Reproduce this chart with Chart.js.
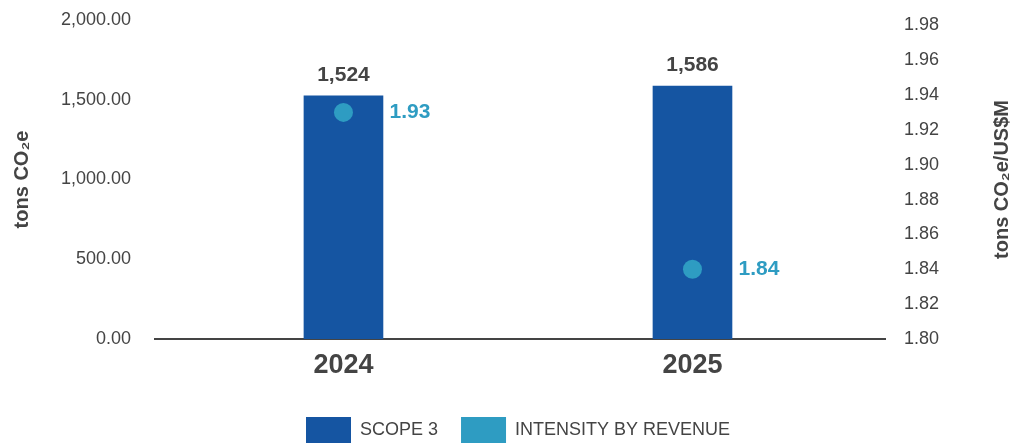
<!DOCTYPE html>
<html>
<head>
<meta charset="utf-8">
<title>Scope 3 emissions and intensity by revenue</title>
<script src="https://cdn.jsdelivr.net/npm/chart.js@4.4.1/dist/chart.umd.min.js"></script>
<style>
  html, body { margin: 0; padding: 0; background: #ffffff; }
  #wrap { width: 1013px; height: 443px; }
</style>
</head>
<body>
<div id="wrap"><canvas id="chart" width="1013" height="443"></canvas></div>
<script>
// ---- data ----
const categories = ['2024', '2025'];
const scope3 = [1524, 1586];            // tons CO2e
const intensity = [1.93, 1.84];         // tons CO2e / US$M
const leftTicks = [0, 500, 1000, 1500, 2000];
const rightTicks = [1.80, 1.82, 1.84, 1.86, 1.88, 1.90, 1.92, 1.94, 1.96, 1.98];
const seriesNames = ['SCOPE 3', 'INTENSITY BY REVENUE'];
const leftTitle = 'tons CO₂e';
const rightTitle = 'tons CO₂e/US$M';

// ---- style ----
const FONT = "'Liberation Sans', Arial, Helvetica, sans-serif";
const INK = '#444444';
const BLUE = '#1555A2';
const TEAL = '#2E9CC2';

// value labels above bars / beside points, plus the right-hand axis title
const annotations = {
  id: 'annotations',
  afterDatasetsDraw(chart) {
    const ctx = chart.ctx;
    ctx.save();
    ctx.textBaseline = 'middle';

    ctx.font = `bold 21px ${FONT}`;
    ctx.fillStyle = INK;
    ctx.textAlign = 'center';
    chart.getDatasetMeta(0).data.forEach((bar, i) => {
      ctx.fillText(scope3[i].toLocaleString('en-US'), bar.x, bar.y - 21);
    });

    ctx.fillStyle = TEAL;
    ctx.textAlign = 'left';
    chart.getDatasetMeta(1).data.forEach((pt, i) => {
      ctx.fillText(intensity[i].toFixed(2), pt.x + 46, pt.y);
    });

    const area = chart.chartArea;
    ctx.font = `bold 20px ${FONT}`;
    ctx.fillStyle = INK;
    ctx.textAlign = 'center';
    ctx.translate(1002, (area.top + area.bottom) / 2);
    ctx.rotate(-Math.PI / 2);
    ctx.fillText(rightTitle, 0, 0);
    ctx.restore();
  }
};

// place the legend row under the plot
const legendPlacement = {
  id: 'legendPlacement',
  afterLayout(chart) {
    const lg = chart.legend;
    const pad = lg.options.labels.padding;
    lg.left = 306 - pad;
    lg.top = 417 - pad;
  }
};

// value axes: fixed width, and the tick padding should not push the plot down
const fitValueAxis = width => s => {
  s.width = width;
  s.paddingTop = 0;
  s.paddingBottom = 0;
};

new Chart(document.getElementById('chart'), {
  type: 'bar',
  data: {
    datasets: [
      {
        type: 'bar',
        label: seriesNames[0],
        data: scope3.map((v, i) => ({ x: i, y: v })),
        backgroundColor: BLUE,
        borderWidth: 0,
        barThickness: 79,
        xAxisID: 'x',
        yAxisID: 'y',
        order: 2
      },
      {
        type: 'line',
        label: seriesNames[1],
        data: intensity.map((v, i) => ({ x: i, y: v })),
        showLine: false,
        backgroundColor: TEAL,
        borderColor: TEAL,
        borderWidth: 0,
        pointRadius: 9.5,
        pointHoverRadius: 9.5,
        pointBackgroundColor: TEAL,
        pointBorderWidth: 0,
        xAxisID: 'x',
        yAxisID: 'y1',
        order: 1
      }
    ]
  },
  options: {
    responsive: false,
    devicePixelRatio: 1,
    animation: false,
    events: [],
    layout: { padding: { top: 20, right: 0, bottom: 0, left: 0 } },
    scales: {
      x: {
        type: 'linear',
        position: 'bottom',
        offset: false,
        min: -0.54,
        max: 1.5516,
        grid: { display: false, drawTicks: false, offset: false },
        border: { display: true, color: INK, width: 2 },
        afterBuildTicks: s => { s.ticks = categories.map((c, i) => ({ value: i })); },
        ticks: {
          callback: v => categories[v],
          font: { family: FONT, size: 27, weight: 'bold' },
          color: INK,
          padding: 10,
          maxRotation: 0,
          autoSkip: false
        },
        afterFit: s => { s.height = 74; }
      },
      y: {
        type: 'linear',
        position: 'left',
        min: 0,
        max: 2000,
        grid: { display: false, drawTicks: false },
        border: { display: false },
        afterBuildTicks: s => { s.ticks = leftTicks.map(v => ({ value: v })); },
        ticks: {
          callback: v => v.toLocaleString('en-US', { minimumFractionDigits: 2, maximumFractionDigits: 2 }),
          font: { family: FONT, size: 18 },
          color: INK,
          padding: 24
        },
        title: {
          display: true,
          text: leftTitle,
          font: { family: FONT, size: 20, weight: 'bold' },
          color: INK,
          padding: { top: 10, bottom: 0 }
        },
        afterFit: fitValueAxis(155)
      },
      y1: {
        type: 'linear',
        position: 'right',
        min: 1.80,
        max: 1.983,
        grid: { display: false, drawTicks: false },
        border: { display: false },
        afterBuildTicks: s => { s.ticks = rightTicks.map(v => ({ value: v })); },
        ticks: {
          callback: v => v.toFixed(2),
          font: { family: FONT, size: 18 },
          color: INK,
          padding: 19
        },
        afterFit: fitValueAxis(128)
      }
    },
    plugins: {
      tooltip: { enabled: false },
      legend: {
        display: true,
        position: 'bottom',
        align: 'start',
        maxHeight: 30,
        labels: {
          boxWidth: 45,
          boxHeight: 26,
          padding: 23,
          color: INK,
          font: { family: FONT, size: 18 },
          sort: (a, b) => a.datasetIndex - b.datasetIndex
        }
      }
    }
  },
  plugins: [annotations, legendPlacement]
});
</script>
</body>
</html>
